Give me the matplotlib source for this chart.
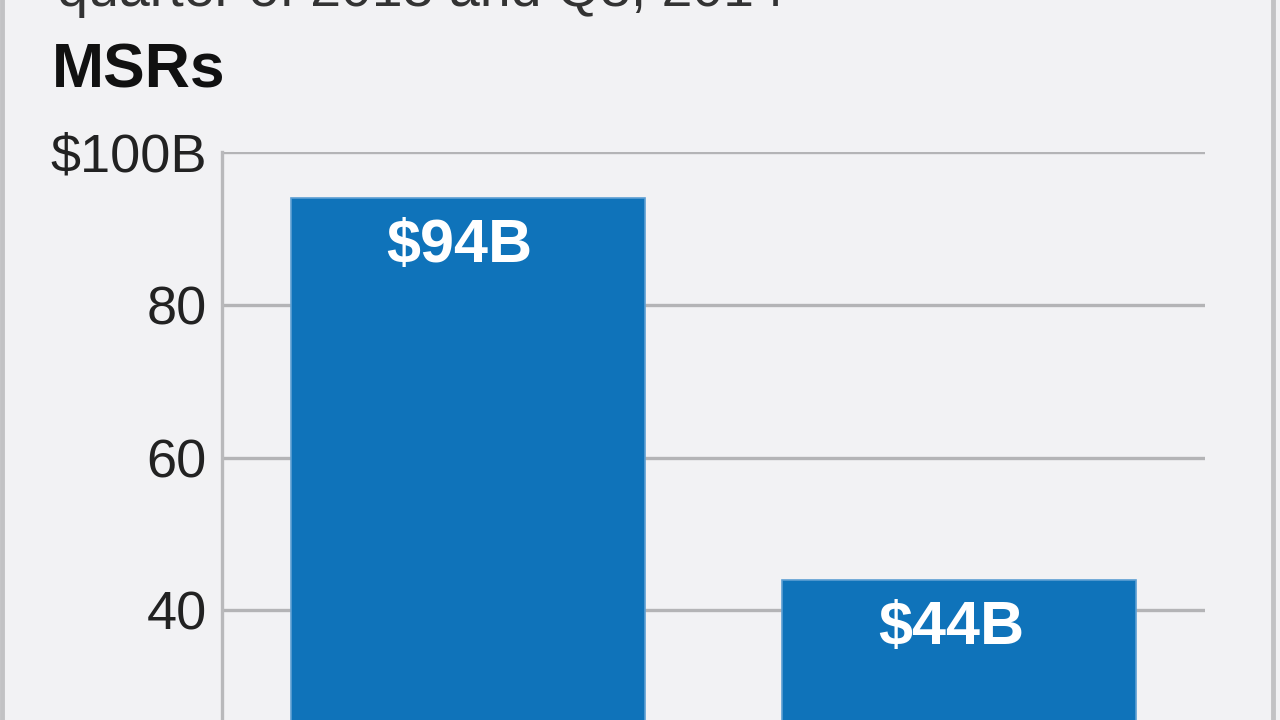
import matplotlib.pyplot as plt
from matplotlib.lines import Line2D

# data
periods = ["Q4 2013", "Q3 2014"]
values = [94, 44]
bar_labels = ["$94B", "$44B"]
yticks = [40, 60, 80, 100]
ytick_labels = ["40", "60", "80", "$100B"]

bg = '#f2f2f4'
bar_color = '#0f73ba'
grid_color = '#b4b4b6'

plt.rcParams['font.family'] = ['Liberation Sans', 'DejaVu Sans']

fig = plt.figure(figsize=(12.8, 7.2), dpi=100, facecolor=bg)

# axes runs past the bottom edge, as in the cropped original
ax = fig.add_axes([222 / 1280, -196 / 720, 983 / 1280, 764 / 720])
ax.set_facecolor(bg)

x = range(len(values))
bars = ax.bar(x, values, width=0.72, color=bar_color, edgecolor='#5d9fd3',
              linewidth=1.2, zorder=3)

for b, lab in zip(bars, bar_labels):
    ax.annotate(lab, (b.get_x() + b.get_width() / 2, b.get_height()),
                xytext=(-6, -35), textcoords='offset points',
                ha='center', va='center', color='white',
                fontsize=44, fontweight='bold', zorder=4)

ax.set_xlim(-0.5, 1.5)
ax.set_ylim(0, 100)
ax.set_xticks([])
ax.set_yticks(yticks)
ax.set_yticklabels(ytick_labels, fontsize=39, color='#222222')
ax.tick_params(axis='y', length=0, pad=11)

for v in yticks:
    ax.axhline(v, color=grid_color, linewidth=2.4, zorder=1)

for s in ['top', 'right', 'bottom']:
    ax.spines[s].set_visible(False)
ax.spines['left'].set_color('#b9b9bb')
ax.spines['left'].set_linewidth(2.4)

# headings (first one is cut off at the top of the crop)
fig.text(57 / 1280, 1 - 6 / 720, "quarter of 2013 and Q3, 2014",
         fontsize=40, color='#333333', va='baseline', ha='left')
fig.text(52 / 1280, 1 - 88 / 720, "MSRs", fontsize=45, fontweight='bold',
         color='#111111', va='baseline', ha='left')

# frame edges
fig.add_artist(Line2D([2 / 1280, 2 / 1280], [0, 1], color='#c2c2c4',
                      linewidth=3.5, transform=fig.transFigure))
fig.add_artist(Line2D([1273 / 1280, 1273 / 1280], [0, 1], color='#c2c2c4',
                      linewidth=3.5, transform=fig.transFigure))

fig.savefig("out.png", dpi=100, facecolor=bg)
